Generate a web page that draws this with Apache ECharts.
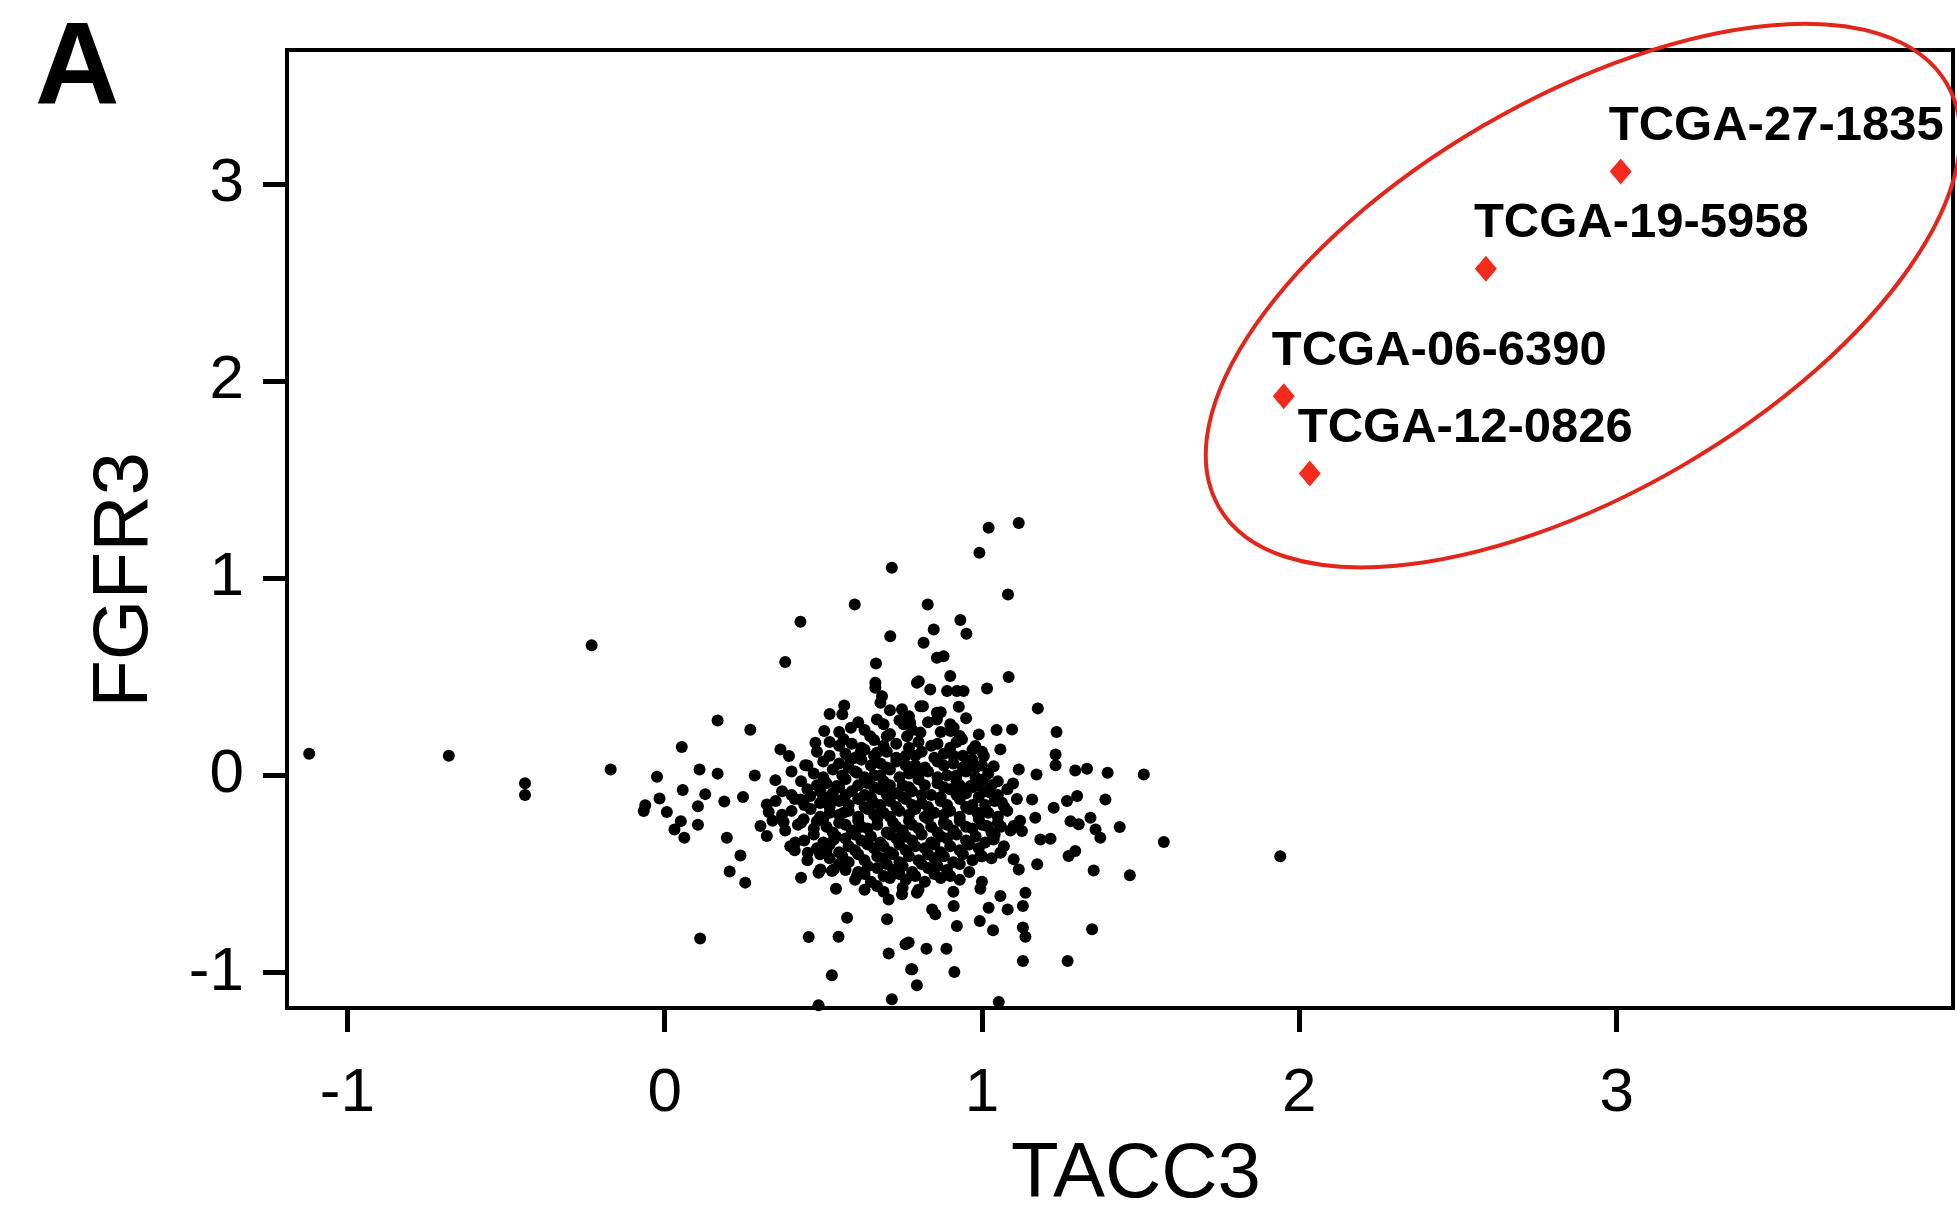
<!DOCTYPE html>
<html>
<head>
<meta charset="utf-8">
<script src="https://cdn.jsdelivr.net/npm/echarts@6/dist/echarts.min.js"></script>
<style>
  html, body { margin: 0; padding: 0; background: #fff; }
  #main { width: 1957px; height: 1230px; }
</style>
</head>
<body>
<div id="main"></div>
<script>
const FONT = 'Liberation Sans, Arial, Helvetica, sans-serif';

// tick values
const xTicks = [-1, 0, 1, 2, 3];
const yTicks = [-1, 0, 1, 2, 3];

// highlighted samples
const redNames = ['TCGA-27-1835', 'TCGA-19-5958', 'TCGA-06-6390', 'TCGA-12-0826'];
const redX = [3.013, 2.588, 1.951, 2.033];
const redY = [3.063, 2.570, 1.924, 1.532];

// outlying samples
const outerPoints = [
  [-1.12, 0.11], [-0.68, 0.10], [-0.44, -0.04], [-0.44, -0.10], [-0.23, 0.66], [-0.17, 0.03], [1.94, -0.41],
  [0.38, 0.575], [0.666, 0.568], [0.664, 0.47], [0.795, 0.47], [0.68, 0.369], [0.748, 0.335], [0.806, 0.351],
  [0.566, 0.355], [0.52, 0.311], [0.167, 0.279], [0.27, 0.232], [0.503, 0.225], [0.587, 0.242], [0.564, 0.183],
  [0.475, 0.166], [0.648, 0.199], [0.70, 0.199], [0.054, 0.144], [0.365, 0.132], [0.392, 0.098], [0.443, 0.051],
  [-0.024, -0.007], [0.11, 0.03], [0.167, 0.009], [0.284, 0.0], [0.349, -0.024], [0.057, -0.074], [0.128, -0.095],
  [-0.016, -0.117], [-0.061, -0.152], [-0.066, -0.181], [0.007, -0.186], [0.105, -0.156], [0.188, -0.132],
  [0.247, -0.11], [0.322, -0.147], [0.328, -0.186], [0.051, -0.232], [0.031, -0.274], [0.062, -0.316],
  [0.105, -0.25], [0.196, -0.316], [0.302, -0.257], [0.322, -0.308], [0.375, -0.237], [0.396, -0.359],
  [0.412, -0.341], [0.239, -0.406], [0.451, -0.392], [0.51, -0.382], [0.205, -0.488], [0.428, -0.122],
  [0.459, -0.105], [0.491, -0.08], [0.522, -0.122], [0.438, -0.223], [0.48, -0.232], [0.543, -0.054],
  [0.564, -0.189], [0.533, -0.325], [0.491, -0.477], [0.533, -0.477], [0.585, 0.081], [0.617, 0.115],
  [0.606, 0.014], [0.669, 0.115],
  [0.254, -0.544], [0.43, -0.519], [0.485, -0.494], [0.527, -0.485], [0.54, -0.575], [0.606, -0.51],
  [0.669, -0.561], [0.706, -0.629], [0.748, -0.603], [0.795, -0.595], [0.575, -0.722], [0.701, -0.73],
  [0.112, -0.827], [0.454, -0.82], [0.548, -0.818], [0.706, -0.904], [0.759, -0.857], [0.78, -0.984],
  [0.795, -1.065], [0.527, -1.014], [0.716, -1.136], [0.485, -1.166],
  [1.174, -0.451], [1.352, -0.482], [1.466, -0.507], [1.116, -0.477], [0.995, -0.575], [1.137, -0.595],
  [1.058, -0.612], [0.911, -0.663], [1.021, -0.671], [1.081, -0.68], [1.129, -0.663], [0.843, -0.68],
  [0.853, -0.705], [0.921, -0.764], [0.993, -0.739], [1.035, -0.786], [1.129, -0.772], [1.137, -0.818],
  [1.347, -0.781], [0.769, -0.848], [0.825, -0.879], [0.888, -0.879], [0.777, -0.984], [0.913, -0.997],
  [1.129, -0.942], [1.27, -0.942], [1.053, -1.149],
  [0.816, 0.673], [0.858, 0.597], [0.879, 0.605], [1.084, 0.499], [0.90, 0.504], [0.801, 0.478],
  [0.837, 0.436], [0.89, 0.428], [0.942, 0.428], [1.016, 0.441], [0.814, 0.351], [0.927, 0.348],
  [0.858, 0.318], [0.858, 0.284], [1.176, 0.34], [0.774, 0.267], [0.911, 0.242], [0.99, 0.208],
  [1.046, 0.23], [1.095, 0.233], [1.235, 0.22], [1.058, 0.132], [0.937, 0.183], [0.979, 0.149],
  [1.232, 0.106], [1.232, 0.051], [1.037, 0.047], [1.116, 0.03], [1.172, 0.005], [1.294, 0.025],
  [1.331, 0.034], [1.396, 0.014], [1.51, 0.005], [1.098, -0.041], [1.006, -0.02], [1.158, -0.122],
  [1.226, -0.164], [1.268, -0.13], [1.30, -0.105], [1.389, -0.122], [1.168, -0.215], [1.279, -0.232],
  [1.305, -0.248], [1.342, -0.215], [1.358, -0.274], [1.373, -0.316], [1.434, -0.262], [1.573, -0.338],
  [1.063, -0.139], [1.10, -0.257], [1.126, -0.282], [1.184, -0.325], [1.216, -0.321], [1.069, -0.359],
  [1.273, -0.409], [1.294, -0.384], [1.016, -0.257], [1.037, -0.325], [1.058, -0.392], [0.995, -0.409],
  [1.10, -0.426], [0.985, -0.189], [1.027, -0.088], [0.964, -0.054], [0.953, 0.064], [1.006, 0.098],
  [1.116, 1.281], [1.021, 1.256], [0.992, 1.129], [0.716, 1.053], [1.082, 0.918], [0.599, 0.867],
  [0.829, 0.867], [0.428, 0.779], [0.932, 0.788], [0.848, 0.74], [0.951, 0.718], [0.711, 0.706],
  [0.664, 0.445], [0.685, 0.402], [0.921, 0.428], [0.669, 0.284], [0.753, 0.259], [0.764, 0.199],
  [0.806, 0.217], [0.901, 0.225]
];

// dense core of the cloud (estimated, too packed to read dot by dot)
const corePoints = [
  [0.56, 0.31], [0.71, 0.33], [0.77, 0.30], [0.87, 0.32],
  [0.61, 0.27], [0.69, 0.26], [0.74, 0.28], [0.83, 0.27], [0.90, 0.26], [0.95, 0.29],
  [0.55, 0.22], [0.63, 0.23], [0.71, 0.21], [0.78, 0.23], [0.87, 0.22], [0.93, 0.20],
  [0.52, 0.17], [0.59, 0.16], [0.66, 0.18], [0.73, 0.16], [0.80, 0.17], [0.84, 0.15], [0.92, 0.17], [0.97, 0.13],
  [0.48, 0.12], [0.57, 0.11], [0.63, 0.13], [0.70, 0.12], [0.76, 0.10], [0.81, 0.12], [0.88, 0.11], [0.94, 0.10], [1.00, 0.12],
  [0.50, 0.07], [0.55, 0.06], [0.62, 0.08], [0.68, 0.06], [0.73, 0.07], [0.79, 0.05], [0.86, 0.07], [0.91, 0.06], [0.98, 0.04],
  [0.40, 0.02], [0.47, 0.01], [0.53, 0.03], [0.60, 0.02], [0.66, 0.00], [0.71, 0.03], [0.77, 0.01], [0.83, 0.02], [0.89, 0.00], [0.95, 0.02], [1.02, 0.01],
  [0.43, -0.03], [0.51, -0.04], [0.57, -0.02], [0.64, -0.04], [0.69, -0.03], [0.75, -0.05], [0.80, -0.02], [0.86, -0.04], [0.92, -0.03], [0.99, -0.05], [1.05, -0.03],
  [0.37, -0.08], [0.45, -0.07], [0.53, -0.09], [0.59, -0.08], [0.63, -0.10], [0.68, -0.07], [0.73, -0.09], [0.78, -0.08], [0.84, -0.10], [0.90, -0.07], [0.95, -0.09], [1.01, -0.08], [1.08, -0.07],
  [0.35, -0.13], [0.41, -0.12], [0.49, -0.14], [0.55, -0.13], [0.61, -0.12], [0.66, -0.14], [0.71, -0.13], [0.76, -0.12], [0.81, -0.14], [0.87, -0.13], [0.93, -0.12], [0.97, -0.15], [1.04, -0.13], [1.11, -0.12],
  [0.40, -0.18], [0.46, -0.17], [0.52, -0.19], [0.58, -0.18], [0.64, -0.17], [0.69, -0.19], [0.74, -0.18], [0.79, -0.17], [0.85, -0.19], [0.90, -0.18], [0.96, -0.17], [1.02, -0.19], [1.08, -0.18],
  [0.34, -0.23], [0.43, -0.24], [0.50, -0.22], [0.55, -0.24], [0.61, -0.23], [0.67, -0.22], [0.72, -0.24], [0.77, -0.23], [0.83, -0.22], [0.88, -0.24], [0.93, -0.23], [0.99, -0.22], [1.05, -0.24], [1.12, -0.23],
  [0.38, -0.28], [0.47, -0.27], [0.53, -0.29], [0.59, -0.28], [0.64, -0.27], [0.70, -0.29], [0.75, -0.28], [0.80, -0.27], [0.86, -0.29], [0.91, -0.28], [0.97, -0.27], [1.03, -0.29], [1.09, -0.28],
  [0.44, -0.33], [0.50, -0.34], [0.57, -0.32], [0.62, -0.33], [0.68, -0.34], [0.73, -0.32], [0.78, -0.33], [0.84, -0.34], [0.89, -0.32], [0.95, -0.33], [1.01, -0.34],
  [0.41, -0.38], [0.48, -0.37], [0.55, -0.39], [0.60, -0.38], [0.66, -0.37], [0.71, -0.39], [0.76, -0.38], [0.82, -0.37], [0.87, -0.39], [0.93, -0.38], [0.99, -0.37], [1.06, -0.39],
  [0.45, -0.43], [0.52, -0.42], [0.58, -0.44], [0.63, -0.43], [0.69, -0.42], [0.74, -0.44], [0.80, -0.43], [0.85, -0.42], [0.91, -0.44], [0.97, -0.43], [1.03, -0.42],
  [0.57, -0.48], [0.61, -0.49], [0.67, -0.47], [0.72, -0.48], [0.78, -0.49], [0.83, -0.47], [0.89, -0.48], [0.96, -0.49],
  [0.60, -0.53], [0.65, -0.54], [0.71, -0.52], [0.76, -0.53], [0.82, -0.54], [0.87, -0.52], [0.93, -0.53], [1.00, -0.54],
  [0.63, -0.58], [0.69, -0.59], [0.75, -0.57], [0.80, -0.58], [0.91, -0.59]
];

// further samples packed between the core ones
const coreFill = [
  [0.55, 0.15], [0.62, 0.14], [0.69, 0.15], [0.77, 0.14], [0.86, 0.16], [0.90, 0.14],
  [0.52, 0.10], [0.60, 0.09], [0.66, 0.10], [0.73, 0.09], [0.79, 0.10], [0.85, 0.09], [0.91, 0.10], [0.97, 0.08],
  [0.45, 0.05], [0.58, 0.04], [0.65, 0.05], [0.70, 0.04], [0.76, 0.05], [0.82, 0.04], [0.88, 0.05], [0.94, 0.04], [1.00, 0.05],
  [0.50, -0.01], [0.56, 0.00], [0.63, -0.01], [0.68, 0.00], [0.74, -0.01], [0.80, 0.00], [0.86, -0.01], [0.92, 0.00], [0.98, -0.01],
  [0.48, -0.05], [0.55, -0.06], [0.61, -0.05], [0.66, -0.06], [0.71, -0.05], [0.77, -0.06], [0.82, -0.05], [0.88, -0.06], [0.93, -0.05], [0.97, -0.06], [1.03, -0.05],
  [0.40, -0.10], [0.50, -0.11], [0.57, -0.10], [0.65, -0.11], [0.70, -0.10], [0.75, -0.11], [0.81, -0.10], [0.87, -0.11], [0.92, -0.10], [0.99, -0.11], [1.05, -0.10],
  [0.44, -0.15], [0.52, -0.16], [0.58, -0.15], [0.63, -0.16], [0.68, -0.15], [0.73, -0.16], [0.78, -0.15], [0.83, -0.16], [0.89, -0.15], [0.95, -0.16], [1.01, -0.15], [1.07, -0.16],
  [0.37, -0.20], [0.49, -0.21], [0.55, -0.20], [0.61, -0.21], [0.66, -0.20], [0.71, -0.21], [0.77, -0.20], [0.82, -0.21], [0.88, -0.20], [0.93, -0.21], [0.99, -0.20], [1.05, -0.21],
  [0.42, -0.25], [0.51, -0.26], [0.57, -0.25], [0.62, -0.26], [0.67, -0.25], [0.73, -0.26], [0.78, -0.25], [0.84, -0.26], [0.89, -0.25], [0.95, -0.26], [1.00, -0.25], [1.06, -0.26],
  [0.47, -0.30], [0.54, -0.31], [0.60, -0.30], [0.65, -0.31], [0.71, -0.30], [0.76, -0.31], [0.81, -0.30], [0.87, -0.31], [0.92, -0.30], [0.98, -0.31], [1.04, -0.30],
  [0.52, -0.35], [0.58, -0.36], [0.64, -0.35], [0.69, -0.36], [0.74, -0.35], [0.79, -0.36], [0.85, -0.35], [0.90, -0.36], [0.96, -0.35],
  [0.49, -0.40], [0.56, -0.41], [0.61, -0.40], [0.67, -0.41], [0.72, -0.40], [0.77, -0.41], [0.83, -0.40], [0.88, -0.41], [0.94, -0.40], [1.00, -0.41],
  [0.55, -0.45], [0.64, -0.46], [0.70, -0.45], [0.75, -0.46], [0.81, -0.45], [0.86, -0.46], [0.93, -0.45],
  [0.63, -0.50], [0.69, -0.51], [0.74, -0.50], [0.79, -0.51], [0.85, -0.50], [0.90, -0.51]
];

// ellipse around the highlighted group: centre in data units, radii in px
const ringCenter = [2.894, 2.434];
const ringRadii = [421, 197];
const ringTilt = 30.2;

var chart = echarts.init(document.getElementById('main'));

var redData = redNames.map(function (n, i) {
  return { name: n, value: [redX[i], redY[i]] };
});

var option = {
  backgroundColor: '#fff',
  animation: false,
  title: {
    text: 'A',
    left: 35,
    top: 13,
    padding: 0,
    textStyle: { fontFamily: FONT, fontSize: 117, fontWeight: 'bold', color: '#000' }
  },
  grid: {
    left: 287, top: 50, right: 4, bottom: 222,
    show: true, borderColor: '#000', borderWidth: 4,
    outerBoundsMode: 'none'
  },
  xAxis: {
    type: 'value',
    min: -1.19, max: 4.06,
    name: 'TACC3',
    nameLocation: 'middle',
    nameGap: 128,
    nameTextStyle: { fontFamily: FONT, fontSize: 78, color: '#000', padding: [0, 0, 0, 32] },
    axisLine: { show: true, onZero: false, lineStyle: { color: '#000', width: 4 } },
    axisTick: { show: true, customValues: xTicks, length: 24, lineStyle: { color: '#000', width: 5 } },
    axisLabel: { customValues: xTicks, margin: 55, fontFamily: FONT, fontSize: 62, color: '#000' },
    splitLine: { show: false }
  },
  yAxis: {
    type: 'value',
    min: -1.18, max: 3.68,
    name: 'FGFR3',
    nameLocation: 'middle',
    nameGap: 123,
    nameTextStyle: { fontFamily: FONT, fontSize: 78, color: '#000', padding: [0, 102, 0, 0] },
    axisLine: { show: true, onZero: false, lineStyle: { color: '#000', width: 4 } },
    axisTick: { show: true, customValues: yTicks, length: 24, lineStyle: { color: '#000', width: 5 } },
    axisLabel: { customValues: yTicks, margin: 43, fontFamily: FONT, fontSize: 62, color: '#000' },
    splitLine: { show: false }
  },
  series: [
    {
      name: 'samples',
      type: 'scatter',
      symbol: 'circle',
      symbolSize: 12,
      itemStyle: { color: '#000', opacity: 1 },
      data: outerPoints.concat(corePoints, coreFill),
      z: 2
    },
    {
      name: 'fusion',
      type: 'scatter',
      symbol: 'diamond',
      symbolSize: [22, 26],
      itemStyle: { color: '#f52a1c', opacity: 1 },
      data: redData,
      z: 3,
      label: {
        show: true,
        formatter: '{b}',
        position: 'inside',
        align: 'left',
        verticalAlign: 'middle',
        offset: [-12, -45],
        fontFamily: FONT,
        fontWeight: 'bold',
        fontSize: 49,
        color: '#000',
        opacity: 1,
        textBorderWidth: 0
      }
    }
  ]
};

chart.setOption(option);

var c = chart.convertToPixel({ gridIndex: 0 }, ringCenter);
chart.setOption({
  graphic: [{
    type: 'ellipse',
    x: c[0],
    y: c[1],
    rotation: ringTilt * Math.PI / 180,
    shape: { cx: 0, cy: 0, rx: ringRadii[0], ry: ringRadii[1] },
    style: { fill: 'none', stroke: '#e3261b', lineWidth: 4 },
    z: 10
  }]
});
</script>
</body>
</html>
